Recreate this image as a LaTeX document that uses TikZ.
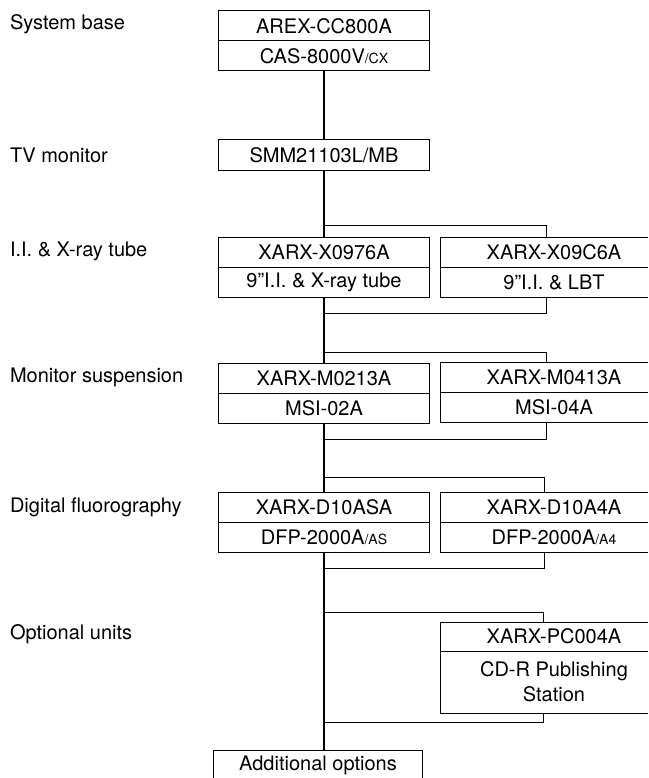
\documentclass[tikz,border=0pt]{standalone}
\usepackage{fontspec}
\setmainfont{TeX Gyre Heros}
\usetikzlibrary{positioning}
\newcommand\peq[1]{{\fontsize{14}{14}\selectfont #1}}
\begin{document}
\begin{tikzpicture}[
  x=1pt, y=-1pt,
  every node/.style={font=\fontsize{20}{25}\selectfont, inner sep=0pt, outer sep=0pt}
]
\tikzset{
  caixa/.style={draw, line width=1pt, minimum width=211pt, minimum height=30pt},
  caixad/.style={minimum width=228pt, minimum height=30pt},
  borda/.style={line width=1pt},
  rotulo/.style={anchor=west},
  tronco/.style={line width=2.4pt},
  ramo/.style={line width=1pt}
}
\useasboundingbox[fill=white] (0,0) rectangle (648,778);

% rotulos a esquerda
\node[rotulo] (lbase) at (10,24) {System base};
\node[rotulo] (ltv) at (10,155) {TV monitor};
\node[rotulo] (lii) at (10,251) {I.I. \& X-ray tube};
\node[rotulo] (lms) at (10,377) {Monitor suspension};
\node[rotulo] (ldf) at (10,507) {Digital fluorography};
\node[rotulo] (lop) at (10,634) {Optional units};

% coluna principal
\node[caixa] (base1) at (324,26) {AREX-CC800A};
\node[caixa, below=0pt of base1] (base2) {CAS-8000V\peq{/CX}};
\node[caixa, minimum height=31pt] (tv) at (324,155.5) {SMM21103L/MB};
\node[caixa] (ii1) at (324,252) {XARX-X0976A};
\node[caixa, below=0pt of ii1] (ii2) {9"I.I. \& X-ray tube};
\node[caixa] (ms1) at (324,378) {XARX-M0213A};
\node[caixa, below=0pt of ms1] (ms2) {MSI-02A};
\node[caixa] (df1) at (324,507) {XARX-D10ASA};
\node[caixa, below=0pt of df1] (df2) {DFP-2000A\peq{/AS}};
\node[caixa, minimum width=209pt] (add) at (318,765) {Additional options};

% alternativas a direita (cortadas na margem)
\node[caixad] (iir1) at (554,252) {XARX-X09C6A};
\node[caixad, below=0pt of iir1] (iir2) {9"I.I. \& LBT};
\node[caixad] (msr1) at (554,377) {XARX-M0413A};
\node[caixad, below=0pt of msr1] (msr2) {MSI-04A};
\node[caixad] (dfr1) at (554,507) {XARX-D10A4A};
\node[caixad, below=0pt of dfr1] (dfr2) {DFP-2000A\peq{/A4}};
\node[caixad, minimum height=29pt] (opr1) at (554,636.5) {XARX-PC004A};
\node[caixad, minimum height=62pt, align=center, below=0pt of opr1] (opr2) {CD-R Publishing\\Station};
\foreach \a/\b in {iir1/iir2, msr1/msr2, dfr1/dfr2, opr1/opr2} {
  \draw[borda] (\a.north -| 648,0) -- (\a.north west) -- (\b.south west) -- (\b.south -| 648,0);
  \draw[borda] (\a.south west) -- (\a.south -| 648,0);
}

% tronco
\draw[tronco] (base2.south) -- (tv.north);
\draw[tronco] (tv.south) -- (ii1.north);
\draw[tronco] (ii2.south) -- (ms1.north);
\draw[tronco] (ms2.south) -- (df1.north);
\draw[tronco] (df2.south) -- (add.north -| df2.south);

% derivacoes
\coordinate (j1) at (324,225);
\coordinate (j2) at (324,313);
\coordinate (j3) at (324,352);
\coordinate (j4) at (324,439);
\coordinate (j5) at (324,477);
\coordinate (j6) at (324,568);
\coordinate (j7) at (324,612);
\coordinate (j8) at (324,722);
\draw[ramo] (j1) -| ([xshift=-8pt]iir1.north);
\draw[ramo] (j2) -| ([xshift=-8pt]iir2.south);
\draw[ramo] (j3) -| ([xshift=-8pt]msr1.north);
\draw[ramo] (j4) -| ([xshift=-8pt]msr2.south);
\draw[ramo] (j5) -| ([xshift=-10pt]dfr1.north);
\draw[ramo] (j6) -| ([xshift=-10pt]dfr2.south);
\draw[ramo] (j7) -| ([xshift=-11pt]opr1.north);
\draw[ramo] (j8) -| ([xshift=-11pt]opr2.south);
\end{tikzpicture}
\end{document}
